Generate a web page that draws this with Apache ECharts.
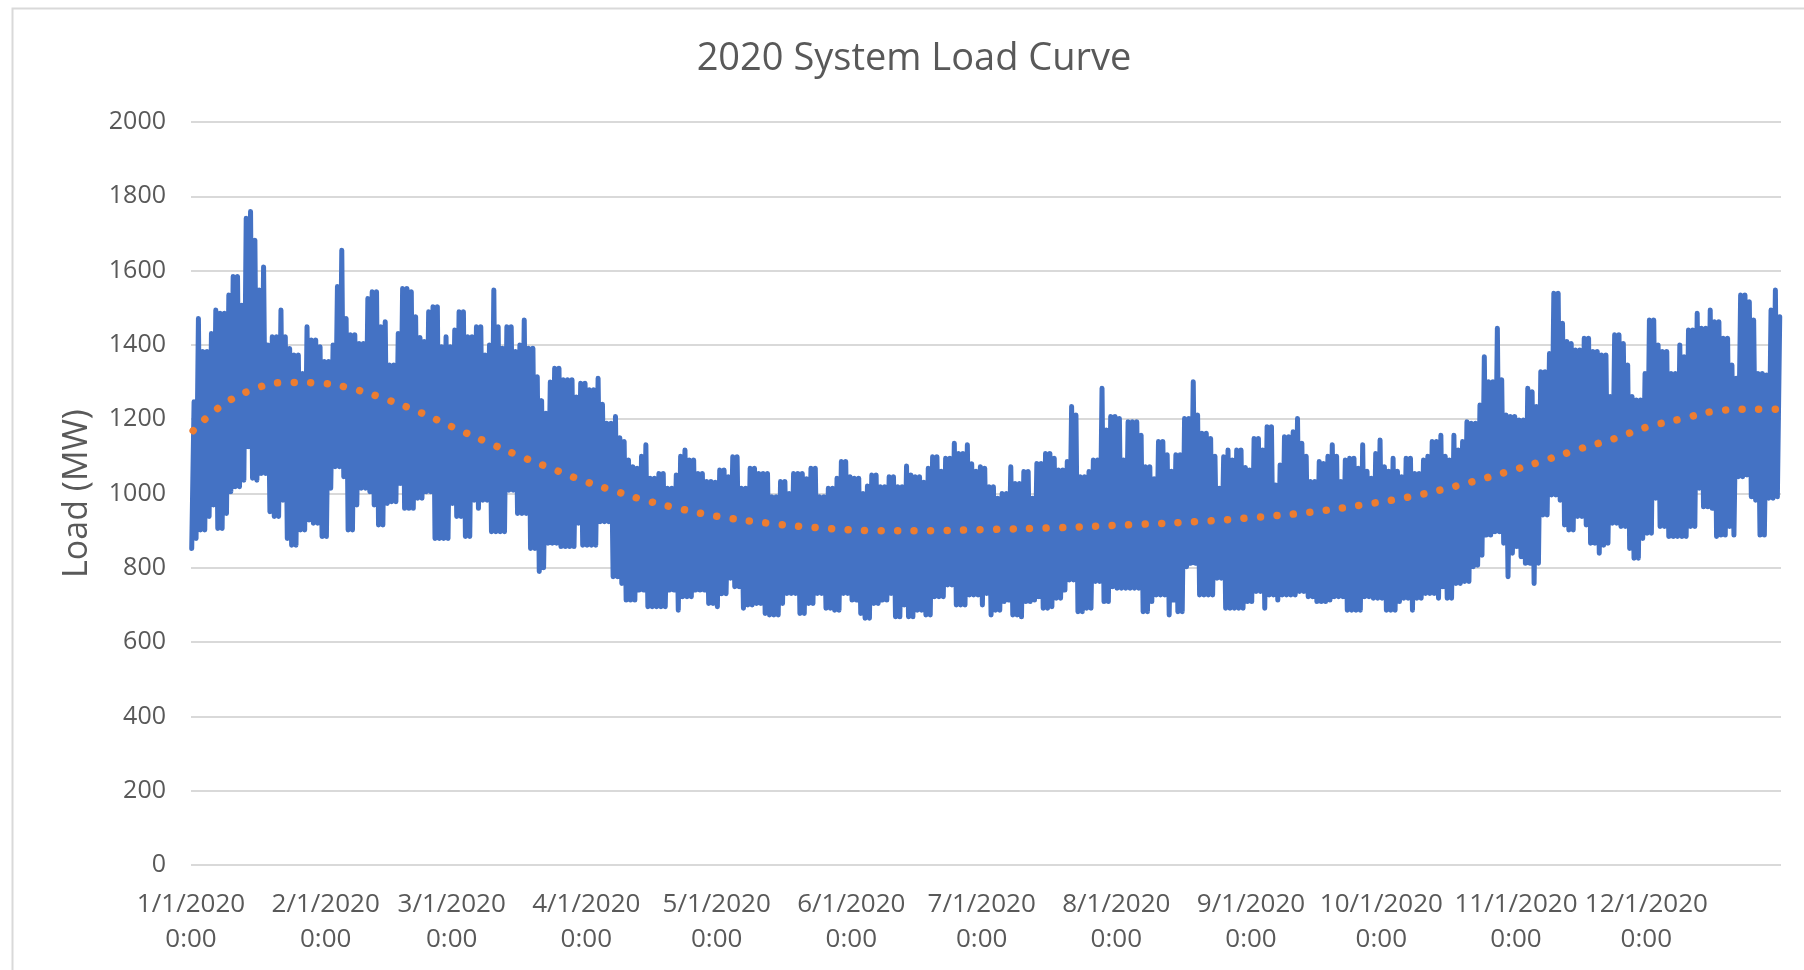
<!DOCTYPE html>
<html>
<head>
<meta charset="utf-8">
<title>2020 System Load Curve</title>
<script src="https://cdn.jsdelivr.net/npm/echarts@6/dist/echarts.min.js"></script>
<style>
  html, body { margin: 0; padding: 0; background: #fff; }
  #chart { width: 1804px; height: 970px; }
</style>
</head>
<body>
<div id="chart"></div>
<script>
// x axis is "day of 2020" (0 = 1/1/2020 0:00), labels at month starts
const monthStartDays = [0, 31, 60, 91, 121, 152, 182, 213, 244, 274, 305, 335];
const monthLabels = ['1/1/2020', '2/1/2020', '3/1/2020', '4/1/2020', '5/1/2020', '6/1/2020',
  '7/1/2020', '8/1/2020', '9/1/2020', '10/1/2020', '11/1/2020', '12/1/2020'];
const yTicks = [0, 200, 400, 600, 800, 1000, 1200, 1400, 1600, 1800, 2000];

// daily peak and daily minimum load (MW), one per day
const dailyHigh = [
  1247, 1471, 1382, 1382, 1431, 1494, 1485, 1485, 1534, 1584, 1584, 1507, 1741, 1759, 1682, 1548, 1610, 1400, 1422, 1422,
  1494, 1422, 1390, 1373, 1373, 1323, 1449, 1413, 1413, 1395, 1355, 1355, 1400, 1557, 1655, 1471, 1427, 1427, 1404, 1404,
  1525, 1543, 1543, 1449, 1462, 1346, 1346, 1431, 1552, 1552, 1543, 1476, 1420, 1409, 1489, 1503, 1503, 1395, 1422, 1395,
  1440, 1489, 1489, 1422, 1422, 1449, 1449, 1373, 1400, 1548, 1449, 1391, 1449, 1449, 1382, 1400, 1467, 1391, 1391, 1314,
  1250, 1216, 1300, 1337, 1337, 1306, 1306, 1306, 1260, 1297, 1297, 1279, 1279, 1310, 1240, 1189, 1189, 1207, 1150, 1140,
  1090, 1072, 1068, 1100, 1131, 1041, 1041, 1054, 1054, 1014, 1014, 1050, 1100, 1117, 1090, 1090, 1054, 1054, 1032, 1032,
  1030, 1063, 1063, 1045, 1099, 1099, 1014, 1014, 1068, 1068, 1054, 1054, 1054, 991, 991, 1032, 1032, 1000, 1054, 1054,
  1054, 1040, 1068, 1068, 991, 991, 1014, 1014, 1041, 1086, 1086, 1045, 1041, 1041, 1000, 1020, 1050, 1050, 1018, 1018,
  1045, 1045, 1018, 1018, 1074, 1050, 1045, 1045, 1030, 1068, 1099, 1099, 1060, 1095, 1095, 1135, 1108, 1108, 1131, 1080,
  1060, 1072, 1068, 1018, 1018, 987, 1000, 1000, 1072, 1027, 1027, 1059, 1059, 987, 1081, 1081, 1108, 1108, 1095, 1063,
  1063, 1086, 1234, 1211, 1045, 1045, 1059, 1090, 1090, 1283, 1171, 1207, 1207, 1202, 1090, 1193, 1193, 1193, 1157, 1072,
  1072, 1040, 1140, 1140, 1104, 1060, 1104, 1104, 1202, 1202, 1301, 1211, 1162, 1162, 1148, 1100, 1014, 1099, 1117, 1090,
  1117, 1117, 1070, 1063, 1148, 1148, 1117, 1180, 1180, 1023, 1077, 1153, 1153, 1166, 1202, 1135, 1100, 1032, 1032, 1086,
  1081, 1100, 1131, 1100, 1032, 1090, 1095, 1095, 1068, 1131, 1060, 1041, 1108, 1144, 1072, 1060, 1095, 1060, 1045, 1095,
  1095, 1054, 1054, 1090, 1100, 1140, 1140, 1157, 1100, 1090, 1157, 1117, 1140, 1193, 1189, 1189, 1238, 1368, 1301, 1301,
  1445, 1306, 1211, 1207, 1207, 1198, 1198, 1283, 1274, 1234, 1328, 1328, 1377, 1539, 1539, 1458, 1409, 1404, 1386, 1386,
  1418, 1418, 1382, 1382, 1373, 1373, 1261, 1427, 1427, 1404, 1346, 1261, 1252, 1252, 1323, 1467, 1467, 1400, 1382, 1382,
  1323, 1323, 1400, 1368, 1440, 1440, 1485, 1445, 1445, 1494, 1462, 1462, 1418, 1418, 1346, 1310, 1534, 1534, 1516, 1467,
  1323, 1323, 1319, 1494, 1548, 1476
];
const dailyLow = [
  852, 879, 902, 902, 938, 969, 906, 906, 946, 1005, 1018, 1018, 1036, 1126, 1041, 1036, 1054, 1054, 951, 938,
  938, 982, 879, 861, 861, 902, 902, 929, 920, 920, 884, 884, 1014, 1072, 1072, 1045, 902, 902, 969, 1014,
  1014, 1005, 969, 915, 915, 973, 978, 978, 1027, 960, 960, 960, 987, 987, 1005, 1005, 879, 879, 879, 879,
  973, 938, 938, 884, 884, 982, 960, 982, 982, 897, 897, 897, 897, 1009, 1009, 946, 946, 946, 852, 852,
  790, 800, 866, 866, 866, 857, 857, 857, 857, 920, 861, 861, 861, 861, 924, 924, 924, 776, 776, 758,
  713, 713, 713, 740, 740, 695, 695, 695, 695, 695, 740, 740, 686, 722, 722, 722, 740, 740, 740, 704,
  704, 695, 730, 730, 772, 749, 749, 691, 700, 700, 704, 704, 677, 673, 673, 673, 704, 731, 731, 731,
  677, 677, 704, 704, 731, 731, 691, 691, 686, 686, 731, 731, 713, 713, 677, 664, 664, 704, 704, 713,
  713, 731, 668, 668, 700, 668, 668, 686, 686, 673, 673, 722, 722, 722, 754, 754, 700, 700, 700, 727,
  727, 727, 700, 731, 673, 686, 686, 709, 713, 673, 673, 668, 709, 709, 713, 722, 691, 691, 695, 718,
  718, 740, 767, 767, 682, 682, 691, 691, 763, 763, 709, 709, 749, 745, 745, 745, 745, 745, 745, 682,
  682, 709, 727, 727, 727, 673, 713, 682, 682, 803, 812, 812, 727, 727, 727, 727, 772, 772, 691, 691,
  691, 691, 691, 709, 709, 736, 736, 691, 727, 727, 713, 727, 727, 727, 727, 736, 736, 722, 722, 709,
  709, 709, 713, 722, 722, 722, 686, 686, 686, 686, 722, 722, 718, 718, 718, 686, 686, 686, 709, 718,
  718, 686, 718, 718, 731, 731, 731, 718, 749, 718, 718, 758, 758, 763, 763, 803, 807, 834, 888, 888,
  897, 897, 866, 776, 839, 857, 830, 812, 812, 758, 812, 942, 942, 996, 996, 982, 915, 902, 902, 938,
  938, 915, 866, 866, 839, 861, 866, 920, 920, 911, 911, 852, 826, 826, 879, 893, 893, 987, 911, 911,
  884, 884, 884, 884, 884, 911, 911, 1014, 964, 964, 960, 884, 888, 888, 911, 888, 1045, 1045, 1050, 991,
  982, 888, 888, 987, 987, 991
];

// polynomial trendline (orange dots), sampled along the curve
const trendDays = [0.5, 6.5, 13.8, 21.7, 29.9, 37.8, 45.3, 52.8, 60, 67.6, 75, 82.4, 90.1, 97.7, 105.4, 113.3,
  121, 133, 145.3, 157.8, 170.3, 182.6, 199.5, 216.2, 232.7, 245.2, 257.2, 269.4, 281.4, 293.1, 304.6,
  312.3, 319.9, 327.7, 335.2, 343.1, 351, 359.2, 365];
const trendLoad = [1169, 1232, 1278, 1299, 1297, 1280, 1252, 1218, 1180, 1141, 1104, 1070, 1035, 1006, 979, 957,
  939, 920, 907, 900, 900, 903, 908, 916, 925, 936, 949, 969, 993, 1026, 1064,
  1092, 1121, 1148, 1179, 1201, 1222, 1227, 1227];

// hourly curve: low in the early morning, peak in the late afternoon
let loadData = [];
for (let d = 0; d < dailyHigh.length; d++) {
  loadData.push([d + 4 / 24, dailyLow[d]]);
  loadData.push([d + 17 / 24, dailyHigh[d]]);
}
let trendData = trendDays.map((d, i) => [d, trendLoad[i]]);

let textFont = "'Open Sans', 'Noto Sans', sans-serif";
let myChart = echarts.init(document.getElementById('chart'), null, { renderer: 'canvas' });
myChart.setOption({
  animation: false,
  backgroundColor: '#ffffff',
  textStyle: { fontFamily: textFont },
  title: {
    text: '2020 System Load Curve',
    left: 914,
    top: 40,
    padding: 0,
    textAlign: 'center',
    textStyle: { fontSize: 38, fontWeight: 'normal', color: '#595959', fontFamily: textFont }
  },
  graphic: [{
    type: 'rect',
    left: 10,
    top: 6,
    silent: true,
    shape: { width: 1830, height: 1000 },
    style: { fill: 'none', stroke: '#d9d9d9', lineWidth: 2 }
  }],
  grid: {
    left: 191,
    right: 23,
    top: 122,
    bottom: 105,
    containLabel: false,
    outerBoundsMode: 'none'
  },
  xAxis: {
    type: 'value',
    min: 0,
    max: 366,
    axisLine: { show: false },
    axisTick: { show: false },
    splitLine: { show: false },
    axisLabel: {
      customValues: monthStartDays,
      formatter: (v) => {
        let i = monthStartDays.indexOf(v);
        return i < 0 ? '' : monthLabels[i] + '\n0:00';
      },
      color: '#595959',
      fontSize: 26,
      lineHeight: 35,
      margin: 22,
      fontFamily: textFont
    }
  },
  yAxis: {
    type: 'value',
    min: yTicks[0],
    max: yTicks[yTicks.length - 1],
    interval: 200,
    name: 'Load (MW)',
    nameLocation: 'middle',
    nameRotate: 90,
    nameGap: 97,
    nameTextStyle: { fontSize: 34, color: '#595959', fontFamily: textFont },
    axisLine: { show: false },
    axisTick: { show: false },
    axisLabel: {
      color: '#595959',
      fontSize: 25,
      margin: 25,
      fontFamily: textFont,
      formatter: (v) => String(v)
    },
    splitLine: { lineStyle: { color: '#d9d9d9', width: 2 } }
  },
  series: [
    {
      name: 'Load',
      type: 'line',
      data: loadData,
      showSymbol: false,
      symbol: 'none',
      sampling: null,
      lineStyle: { color: '#4472C4', width: 5, cap: 'round', join: 'round' },
      z: 2
    },
    {
      name: 'Trend',
      type: 'line',
      data: trendData,
      smooth: 0.4,
      showSymbol: false,
      symbol: 'none',
      lineStyle: { color: '#ED7D31', width: 7.5, type: [0.01, 16.5], cap: 'round' },
      z: 3
    }
  ]
});
</script>
</body>
</html>
